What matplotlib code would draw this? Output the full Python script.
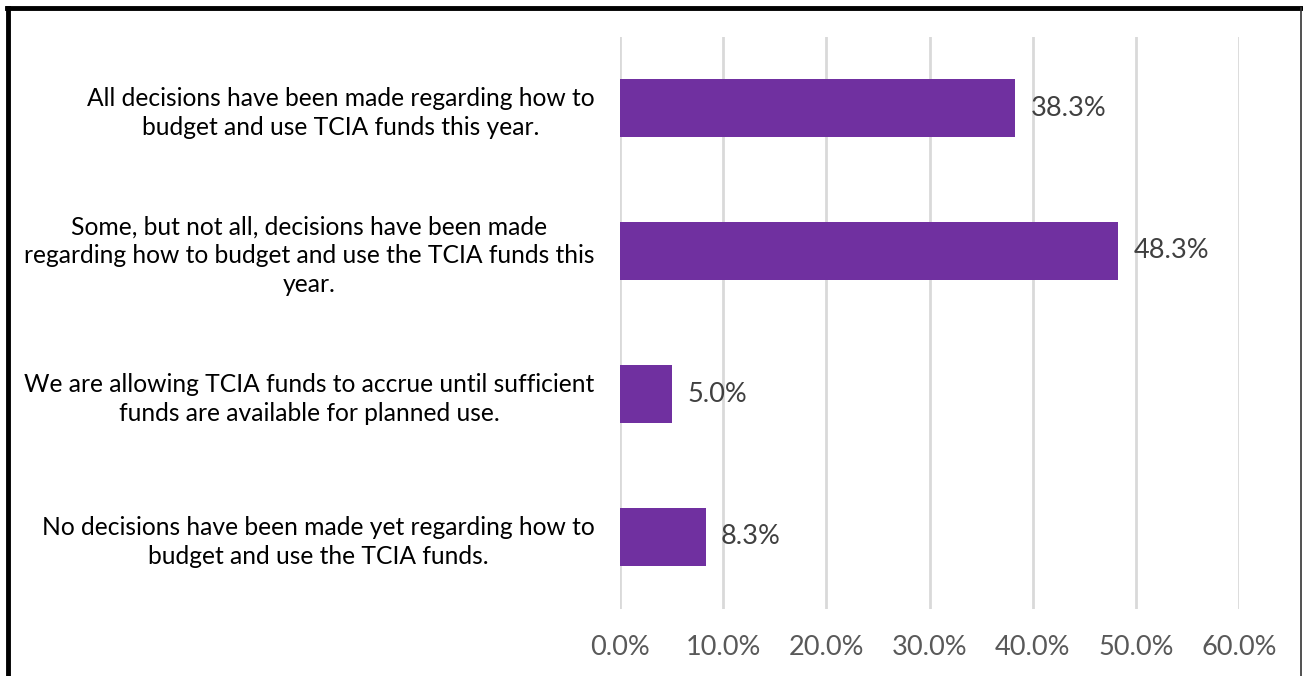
import matplotlib.pyplot as plt
from matplotlib.lines import Line2D

# survey responses, top to bottom
categories = [
    "All decisions have been made regarding how to\nbudget and use TCIA funds this year.",
    "Some, but not all, decisions have been made\nregarding how to budget and use the TCIA funds this\nyear.",
    "We are allowing TCIA funds to accrue until sufficient\nfunds are available for planned use.",
    "No decisions have been made yet regarding how to\nbudget and use the TCIA funds.",
]
values = [38.3, 48.3, 5.0, 8.3]
ticks = [0, 10, 20, 30, 40, 50, 60]
tick_labels = ["%.1f%%" % t for t in ticks]

plt.rcParams['font.family'] = ['Lato', 'DejaVu Sans']

W, H = 1303, 676
fig = plt.figure(figsize=(W / 100, H / 100), dpi=100)
ax = fig.add_axes([620 / W, 1 - 608.5 / H, (1239 - 620) / W, (608.5 - 36.5) / H])

pos = list(range(len(values)))
ax.barh(pos, values, height=0.4, color="#7030A0", zorder=3)
for p, v in zip(pos, values):
    ax.text(v + 1.5, p, "%.1f%%" % v, va="center", ha="left", fontsize=19.5, color="#404040")

ax.set_xlim(0, 60)
ax.set_ylim(len(values) - 0.5, -0.5)
ax.set_xticks(ticks)
ax.set_xticklabels(tick_labels, fontsize=19.5, color="#595959")
ax.set_yticks(pos)
ax.set_yticklabels(categories, fontsize=17.7, color="black", ha="right",
                   multialignment="center", linespacing=1.3)
ax.tick_params(axis="y", length=0, pad=18.5)
ax.tick_params(axis="x", length=0, pad=19)
ax.grid(axis="x", color="#D9D9D9", linewidth=2, zorder=0)
for s in ax.spines.values():
    s.set_visible(False)

# outer frame (bottom edge is cut off in the original)
fig.add_artist(Line2D([8 / W, 8 / W], [0, 1 - 8 / H], transform=fig.transFigure, color="black", lw=3.5))
fig.add_artist(Line2D([6.5 / W, 1301 / W], [1 - 8 / H, 1 - 8 / H], transform=fig.transFigure, color="black", lw=3.5))
fig.add_artist(Line2D([1301 / W, 1301 / W], [0, 1 - 8 / H], transform=fig.transFigure, color="#333333", lw=1.2))

fig.savefig("out.png", dpi=100)
